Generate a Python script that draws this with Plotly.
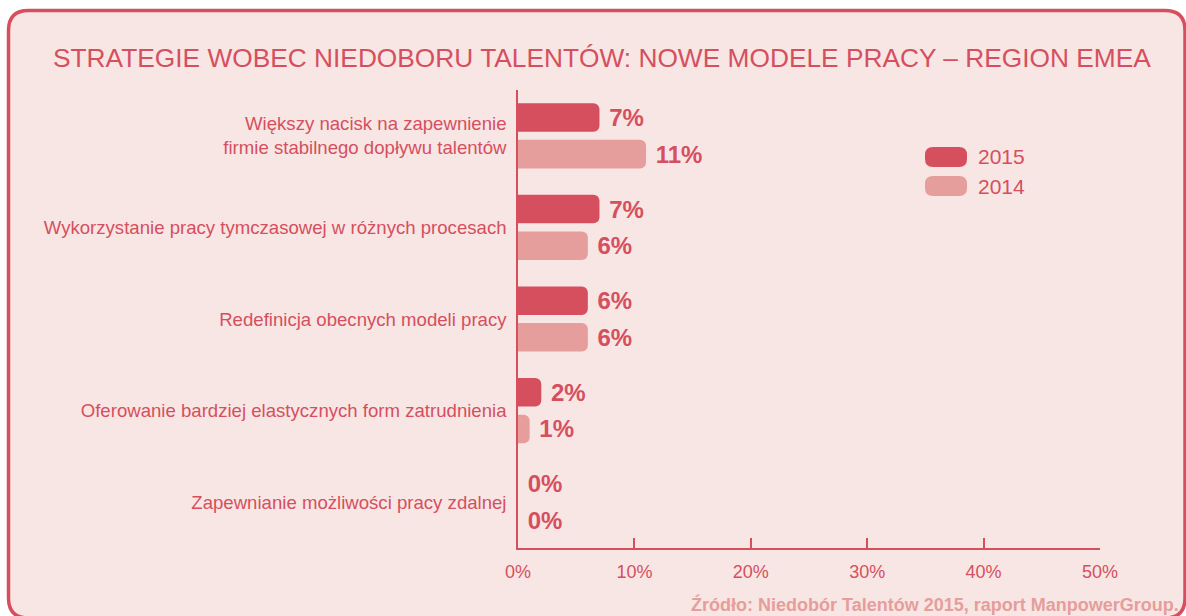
import plotly.graph_objects as go

categories = [
    "Większy nacisk na zapewnienie<br>firmie stabilnego dopływu talentów",
    "Wykorzystanie pracy tymczasowej w różnych procesach",
    "Redefinicja obecnych modeli pracy",
    "Oferowanie bardziej elastycznych form zatrudnienia",
    "Zapewnianie możliwości pracy zdalnej",
]
series_names = ["2015", "2014"]
values_2015 = [7, 7, 6, 2, 0]
values_2014 = [11, 6, 6, 1, 0]
x_ticks = [0, 10, 20, 30, 40, 50]
x_ticklabels = ["0%", "10%", "20%", "30%", "40%", "50%"]

title_text = "STRATEGIE WOBEC NIEDOBORU TALENTÓW: NOWE MODELE PRACY – REGION EMEA"
source_text = "Źródło: Niedobór Talentów 2015, raport ManpowerGroup."

RED = "#D64F5E"
PINK = "#E59E9B"
BG = "#F7E6E4"
FONT = "Liberation Sans, Arial, sans-serif"

W, H = 1186, 616
ML, MR, MT, MB = 518, 86, 90, 68
PW, PH = W - ML - MR, H - MT - MB


def px(x):
    return (x - ML) / PW


def py(y):
    return (H - MB - y) / PH


def rounded_rect(x0, y0, x1, y1, r):
    return (
        f"M{px(x0 + r)},{py(y0)} L{px(x1 - r)},{py(y0)} "
        f"Q{px(x1)},{py(y0)} {px(x1)},{py(y0 + r)} "
        f"L{px(x1)},{py(y1 - r)} Q{px(x1)},{py(y1)} {px(x1 - r)},{py(y1)} "
        f"L{px(x0 + r)},{py(y1)} Q{px(x0)},{py(y1)} {px(x0)},{py(y1 - r)} "
        f"L{px(x0)},{py(y0 + r)} Q{px(x0)},{py(y0)} {px(x0 + r)},{py(y0)} Z"
    )


fig = go.Figure()
for name, vals, col in [(series_names[0], values_2015, RED), (series_names[1], values_2014, PINK)]:
    fig.add_trace(go.Bar(
        name=name, y=categories, x=vals, orientation="h",
        marker=dict(color=col, line=dict(width=0)),
        text=[f"{v}%" for v in vals], texttemplate=" %{text}",
        textposition="outside", cliponaxis=False,
        textfont=dict(family=FONT, size=24, color=RED, weight="bold"),
        showlegend=False, hoverinfo="skip",
    ))

shapes = [
    dict(type="path", xref="paper", yref="paper", layer="below",
         path=rounded_rect(8.5, 10.5, 1185, 618, 20),
         fillcolor=BG, line=dict(color=RED, width=3.5)),
]
annotations = [
    dict(text=title_text, xref="paper", yref="paper", x=px(602), y=py(58),
         xanchor="center", yanchor="middle", showarrow=False,
         font=dict(family=FONT, size=26.3, color=RED)),
    dict(text=source_text, xref="paper", yref="paper", x=px(1181), y=py(604),
         xanchor="right", yanchor="middle", showarrow=False,
         font=dict(family=FONT, size=18, color=PINK, weight="bold")),
]
# custom legend
for i, (name, col) in enumerate([(series_names[0], RED), (series_names[1], PINK)]):
    cy = 157 + 29 * i
    shapes.append(dict(type="path", xref="paper", yref="paper",
                       path=rounded_rect(925, cy - 10, 967, cy + 10, 8),
                       fillcolor=col, line=dict(width=0)))
    annotations.append(dict(text=name, xref="paper", yref="paper", x=px(976), y=py(cy),
                            xanchor="left", yanchor="middle", showarrow=False,
                            font=dict(family=FONT, size=21, color=RED)))

fig.update_layout(
    width=W, height=H,
    margin=dict(l=ML, r=MR, t=MT, b=MB),
    paper_bgcolor="white", plot_bgcolor="rgba(0,0,0,0)",
    barmode="group", bargap=0.2, bargroupgap=0.22, barcornerradius=6,
    shapes=shapes, annotations=annotations,
    xaxis=dict(range=[0, 50], tickvals=x_ticks, ticktext=x_ticklabels,
               showgrid=False, zeroline=False, showline=True, linecolor=RED, linewidth=1.5,
               ticks="inside", ticklen=10, tickwidth=1.5, tickcolor=RED,
               ticklabelstandoff=7,
               tickfont=dict(family=FONT, size=18, color=RED), fixedrange=True),
    yaxis=dict(autorange="reversed", showgrid=False, zeroline=False,
               showline=True, linecolor=RED, linewidth=1.5, ticks="",
               ticklabelstandoff=6,
               tickfont=dict(family=FONT, size=18.6, color=RED), fixedrange=True),
    font=dict(family=FONT, color=RED),
)

fig.write_html("out.html", config={"displayModeBar": False},
               post_script="document.body.style.margin='0';document.body.style.overflow='hidden';")
